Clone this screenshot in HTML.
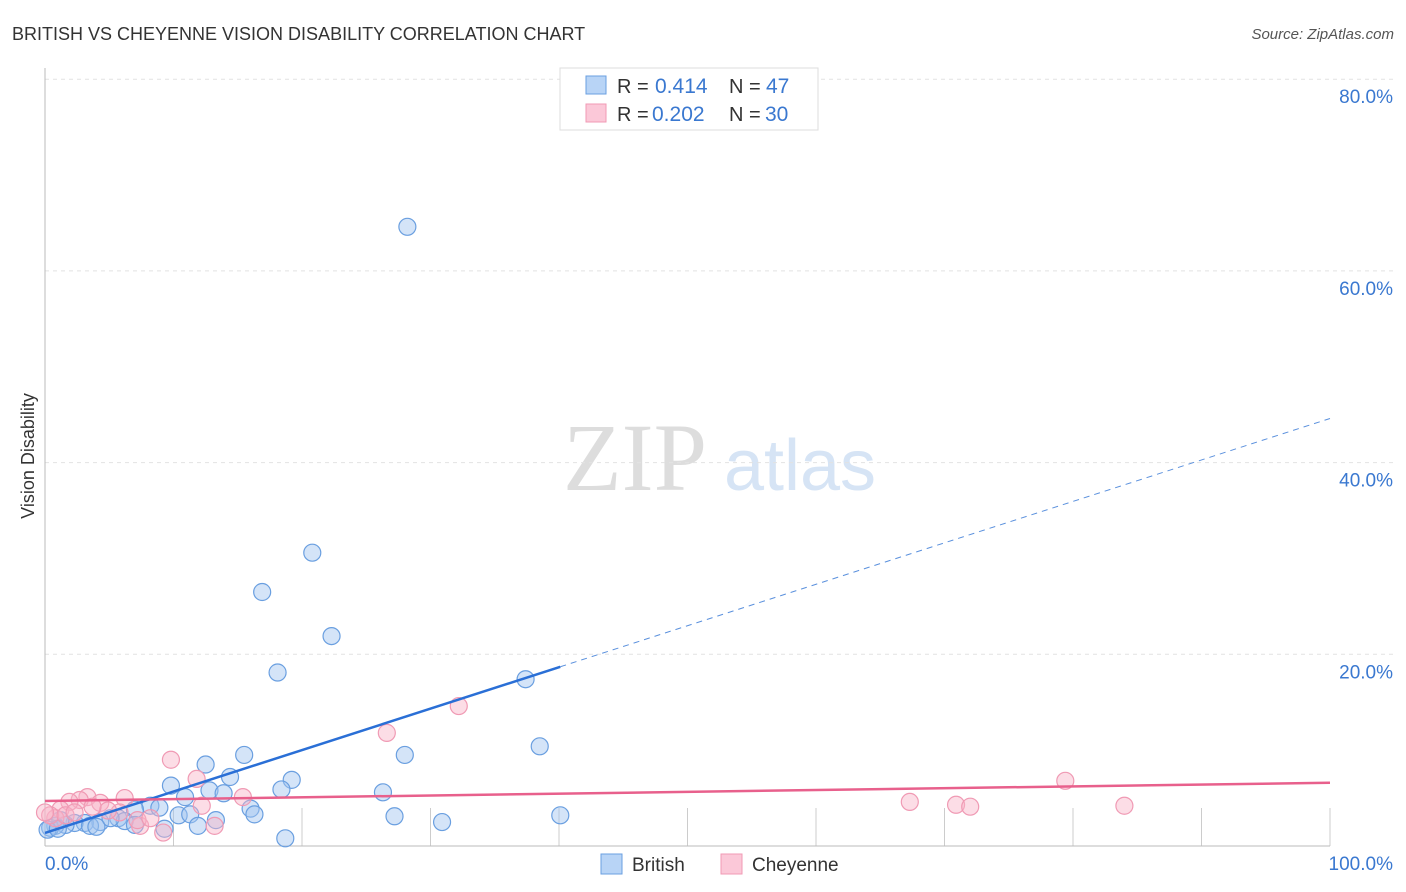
<!DOCTYPE html>
<html><head><meta charset="utf-8"><style>
body{margin:0;background:#fff;font-family:"Liberation Sans",sans-serif}
svg{display:block}
</style></head><body>
<svg width="1406" height="892" id="c">
<text x="12" y="40" font-size="18" fill="#333">BRITISH VS CHEYENNE VISION DISABILITY CORRELATION CHART</text>
<text x="1394" y="39" font-size="15" fill="#555" font-style="italic" text-anchor="end">Source: ZipAtlas.com</text>
<text x="34" y="456" font-size="18" fill="#333" text-anchor="middle" transform="rotate(-90 34 456)">Vision Disability</text>
<g>
<text x="635" y="490" font-size="96" fill="#ddd" font-family="Liberation Serif" text-anchor="middle">ZIP</text>
<text x="800" y="490" font-size="72" fill="#d6e4f5" text-anchor="middle">atlas</text>
</g>
<g id="grid"></g><g id="pts"></g><g id="trend"></g>
<g>
<rect x="560" y="68" width="258" height="62" fill="#fff" stroke="#ddd"/>
<rect x="586" y="76" width="20" height="18" fill="#b8d4f6" stroke="#6a9fe0"/>
<text x="617" y="93" font-size="20" fill="#333">R =</text>
<text x="655" y="93" font-size="21" fill="#3a78d0">0.414</text>
<text x="729" y="93" font-size="20" fill="#333">N =</text>
<text x="766" y="93" font-size="21" fill="#3a78d0">47</text>
<rect x="586" y="104" width="20" height="18" fill="#fbc8d8" stroke="#f09ab4"/>
<text x="617" y="121" font-size="20" fill="#333">R =</text>
<text x="652" y="121" font-size="21" fill="#3a78d0">0.202</text>
<text x="729" y="121" font-size="20" fill="#333">N =</text>
<text x="765" y="121" font-size="21" fill="#3a78d0">30</text>
</g>
<g>
<rect x="601" y="854" width="21" height="20" fill="#b8d4f6" stroke="#6a9fe0"/>
<text x="632" y="871" font-size="19" fill="#333">British</text>
<rect x="721" y="854" width="21" height="20" fill="#fbc8d8" stroke="#f09ab4"/>
<text x="752" y="871" font-size="19" fill="#333">Cheyenne</text>
</g>
</svg>
<script>
const yTicks=[20,40,60,80];
const yTickLabels=["20.0%","40.0%","60.0%","80.0%"];
const xTickLabels=["0.0%","100.0%"];
const britishX=[28.2,20.8,16.9,22.3,18.1,37.4,38.5,28.0,15.5,12.5,14.4,19.2,9.8,18.4,12.8,13.9,10.9,26.3,8.2,8.9,7.0,16.0,16.3,10.4,11.3,27.2,40.1,30.9,13.3,11.9,5.7,6.2,4.3,5.1,3.1,2.3,1.6,0.8,0.4,3.5,4.0,1.2,9.3,7.0,18.7,0.2,1.0];
const britishY=[64.6,30.6,26.5,21.9,18.1,17.4,10.4,9.5,9.5,8.5,7.2,6.9,6.3,5.9,5.8,5.5,5.1,5.6,4.2,4.0,3.8,3.9,3.3,3.2,3.3,3.1,3.2,2.5,2.7,2.1,2.9,2.6,2.5,2.9,2.4,2.4,2.2,2.1,1.9,2.1,2.0,2.7,1.8,2.2,0.8,1.7,1.8];
const cheyX=[32.2,26.6,9.8,11.8,79.4,15.4,6.2,3.3,2.7,1.9,4.3,67.3,70.9,72.0,84.0,12.2,1.2,5.8,7.4,9.2,13.2,0.8,0.4,4.9,7.2,0,3.7,1.6,8.2,2.3];
const cheyY=[14.6,11.8,9.0,7.0,6.8,5.1,5.0,5.1,4.8,4.6,4.5,4.6,4.3,4.1,4.2,4.2,3.8,3.5,2.1,1.4,2.1,2.9,3.2,3.7,2.7,3.5,4.1,3.2,2.9,3.5];
const britishTrend=[1.36,44.6];
const cheyTrend=[4.7,6.6];
const ns="http://www.w3.org/2000/svg";
const X=v=>45+v*12.85, Y=v=>846-v*9.585;
function mk(t,a,p){const e=document.createElementNS(ns,t);for(const k in a)e.setAttribute(k,a[k]);p.appendChild(e);return e;}
const g=document.getElementById('grid');
yTicks.forEach((t,i)=>{
 const l=mk('line',{x1:45,x2:1395,y1:Y(t),y2:Y(t),stroke:'#e2e2e2','stroke-dasharray':'4 4'},g);
 
 
 const tx=mk('text',{x:1393,y:Y(t)+24,'font-size':19,fill:'#3a78d0','text-anchor':'end'},g);
 tx.textContent=yTickLabels[i];
 
 
});
for(let i=1;i<=10;i++){
 const l=mk('line',{x1:X(i*10),x2:X(i*10),y1:808,y2:846,stroke:'#ccc'},g);
 
 
}
let a=mk('line',{x1:45,x2:1330,y1:846,y2:846,stroke:'#bbb'},g);


a=mk('line',{x1:45,x2:45,y1:68,y2:846,stroke:'#bbb'},g);


[[45,'start',0],[1393,'end',1]].forEach(([x,an,i])=>{
 const t=mk('text',{x:x,y:870,'font-size':19,fill:'#3a78d0','text-anchor':an},g);
 t.textContent=xTickLabels[i];
 
 
});
const p=document.getElementById('pts');
britishX.forEach((v,i)=>{
 const c=mk('circle',{cx:X(v),cy:Y(britishY[i]),r:8.5,fill:'rgba(160,196,240,0.45)',stroke:'#6a9fe0','stroke-width':1.2},p);
 
 
});
cheyX.forEach((v,i)=>{
 const c=mk('circle',{cx:X(v),cy:Y(cheyY[i]),r:8.5,fill:'rgba(248,180,200,0.45)',stroke:'#f09ab4','stroke-width':1.2},p);
 
 
});
const tr=document.getElementById('trend');
const bAt=x=>britishTrend[0]+(britishTrend[1]-britishTrend[0])*x/100;
let l=mk('line',{x1:X(0),y1:Y(bAt(0)),x2:X(40.1),y2:Y(bAt(40.1)),stroke:'#2a6fd6','stroke-width':2.5},tr);


l=mk('line',{x1:X(40.1),y1:Y(bAt(40.1)),x2:X(100),y2:Y(bAt(100)),stroke:'#5a90dd','stroke-width':1,'stroke-dasharray':'6 5'},tr);


l=mk('line',{x1:X(0),y1:Y(cheyTrend[0]),x2:X(100),y2:Y(cheyTrend[1]),stroke:'#e8608c','stroke-width':2.5},tr);


</script>
</body></html>
